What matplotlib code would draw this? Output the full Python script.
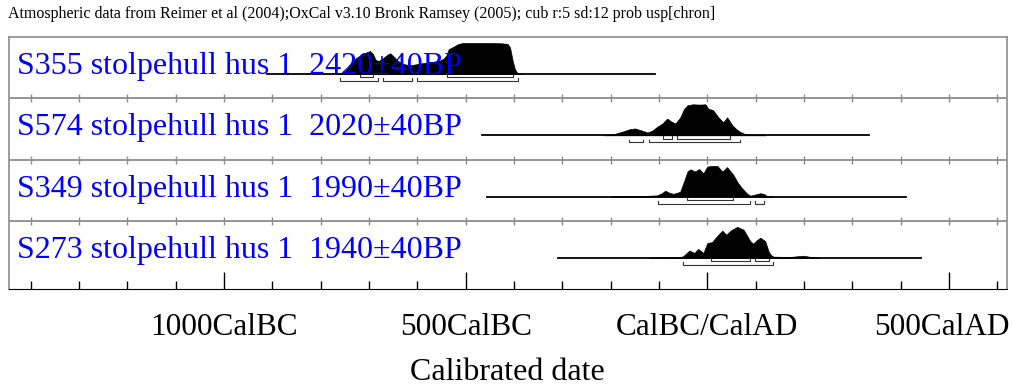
import matplotlib
matplotlib.use('Agg')
import matplotlib.pyplot as plt
import matplotlib.transforms as mtransforms
import numpy as np

# samples, top to bottom
labels = ['S355 stolpehull hus 1  2420\u00b140BP',
          'S574 stolpehull hus 1  2020\u00b140BP',
          'S349 stolpehull hus 1  1990\u00b140BP',
          'S273 stolpehull hus 1  1940\u00b140BP']

# extent of the baseline of each plot (calendar years, BC negative)
line_ranges = [(-911, -108), (-466, 335), (-456, 412), (-308, 442)]

# calibrated probability (relative to the peak)
years_s355 = [-765, -750, -740, -728, -718, -708, -698, -692, -686, -680, -672, -662,
              -656, -648, -640, -628, -615, -600, -585, -570, -555, -545, -540, -535,
              -525, -515, -505, -480, -450, -425, -413, -408, -403, -398, -393, -385]
prob_s355 = [0, 0.08, 0.3, 0.5, 0.6, 0.68, 0.74, 0.65, 0.45, 0.42, 0.5, 0.62,
             0.67, 0.55, 0.42, 0.32, 0.28, 0.32, 0.36, 0.38, 0.42, 0.5, 0.6, 0.8,
             0.88, 0.97, 1.0, 1.0, 1.0, 0.99, 0.97, 0.85, 0.45, 0.15, 0.03, 0]

years_s574 = [-215, -195, -175, -160, -149, -135, -124, -114, -104, -93, -83, -75,
              -66, -56, -48, -41, -30, -15, -4, 2, 12, 23, 33, 41, 52, 60, 68, 78,
              89, 105, 120]
prob_s574 = [0, 0.03, 0.12, 0.2, 0.22, 0.15, 0.09, 0.15, 0.27, 0.38, 0.54, 0.45,
             0.38, 0.58, 0.85, 0.97, 1.0, 0.99, 1.0, 0.86, 0.81, 0.58, 0.42, 0.58,
             0.32, 0.2, 0.11, 0.04, 0.02, 0.02, 0]

years_s349 = [-200, -166, -130, -104, -95, -87, -78, -70, -63, -56, -48, -41, -35,
              -25, -17, -8, 0, 10, 21, 31, 41, 54, 63, 72, 82, 89, 100, 110, 118,
              124, 135]
prob_s349 = [0, 0.02, 0.02, 0.04, 0.1, 0.19, 0.12, 0.09, 0.12, 0.16, 0.5, 0.81, 0.88,
             0.81, 0.89, 0.75, 0.97, 0.99, 0.99, 0.81, 0.95, 0.7, 0.45, 0.27, 0.1,
             0.03, 0.07, 0.11, 0.08, 0.01, 0]

years_s273 = [-120, -97, -60, -50, -37, -27, -19, -8, 0, 10, 20, 31, 39, 50, 62, 75,
              89, 95, 103, 110, 120, 127, 132, 137, 170, 199, 215, 230]
prob_s273 = [0, 0.01, 0.02, 0.05, 0.24, 0.16, 0.29, 0.16, 0.48, 0.51, 0.7, 0.88,
             0.75, 0.9, 1.0, 0.91, 0.54, 0.46, 0.58, 0.65, 0.54, 0.2, 0.09, 0.04,
             0.03, 0.07, 0.03, 0]

dist_years = [years_s355, years_s574, years_s349, years_s273]
dist_probs = [prob_s355, prob_s574, prob_s349, prob_s273]

# 68.2% and 95.4% ranges
ranges_68 = [[(-718, -692), (-538, -402)],
             [(-91, -72), (-62, 48)],
             [(-42, 53)],
             [(8, 88), (98, 128)]]
ranges_95 = [[(-760, -681), (-671, -611), (-600, -391)],
             [(-161, -132), (-121, 68)],
             [(-101, 88), (98, 118)],
             [(-51, 137)]]

major_ticks = [-1000, -500, 0, 500]
major_labels = ['1000CalBC', '500CalBC', 'CalBC/CalAD', '500CalAD']
minor_ticks = list(range(-1400, 700, 100))

serif = 'Liberation Serif'
grey = '#8c8c8c'

fig = plt.figure(figsize=(10.13, 3.87), dpi=100)
ax = fig.add_axes([9 / 1013, 1 - 289 / 387, 997.5 / 1013, 252 / 387])
ax.set_xlim(-1444.8, 619.1)
ax.set_ylim(0, 252)

row_h = 61.3
height = 31.0

for i in range(4):
    top = 252 - i * row_h
    base = top - 37
    if i > 0:
        ax.axhline(top, color=grey, lw=1.3, zorder=1)
        ax.vlines(minor_ticks, top - 4, top + 4, color=grey, lw=1, zorder=1)
    x0, x1 = line_ranges[i]
    ax.plot([x0, x1], [base, base], color='black', lw=1.3, zorder=3)
    yrs = np.array(dist_years[i])
    pr = np.array(dist_probs[i])
    ax.fill_between(yrs, base, base + pr * height, color='black', lw=0.5, zorder=3)
    for a, b in ranges_68[i]:
        y = base - 3.5
        ax.plot([a, a, b, b], [y + 2.5, y, y, y + 2.5], color='#333333', lw=0.8, zorder=3)
    for a, b in ranges_95[i]:
        y = base - 7
        ax.plot([a, a, b, b], [y + 2.5, y, y, y + 2.5], color='#333333', lw=0.8, zorder=3)
    trans = mtransforms.blended_transform_factory(ax.transAxes, ax.transData)
    ax.text(8 / 997.5, base, labels[i], transform=trans, color='#0000ff',
            fontsize=23, family=serif, va='baseline', ha='left', zorder=5)

ax.set_yticks([])
ax.set_xticks(major_ticks)
ax.set_xticklabels(major_labels, family=serif, fontsize=22.5)
ax.set_xticks(minor_ticks, minor=True)
ax.tick_params(axis='x', which='major', direction='in', length=12.2, width=1, pad=17.5)
ax.tick_params(axis='x', which='minor', direction='in', length=5.8, width=1)
ax.set_xlabel('Calibrated date', family=serif, fontsize=23, labelpad=11.5)

# keep the last label inside the picture
last = ax.get_xticklabels()[-1]
last.set_transform(last.get_transform() +
                   mtransforms.ScaledTranslation(-7 / 100, 0, fig.dpi_scale_trans))

for side in ['top', 'left', 'right']:
    ax.spines[side].set_color(grey)
    ax.spines[side].set_linewidth(1.2)
ax.spines['bottom'].set_color('black')

fig.text(8 / 1013, 1 - 14 / 387,
         'Atmospheric data from Reimer et al (2004);OxCal v3.10 Bronk Ramsey (2005); '
         'cub r:5 sd:12 prob usp[chron]', family=serif, fontsize=11.5, va='center', ha='left')

fig.savefig('out.png', dpi=100)
